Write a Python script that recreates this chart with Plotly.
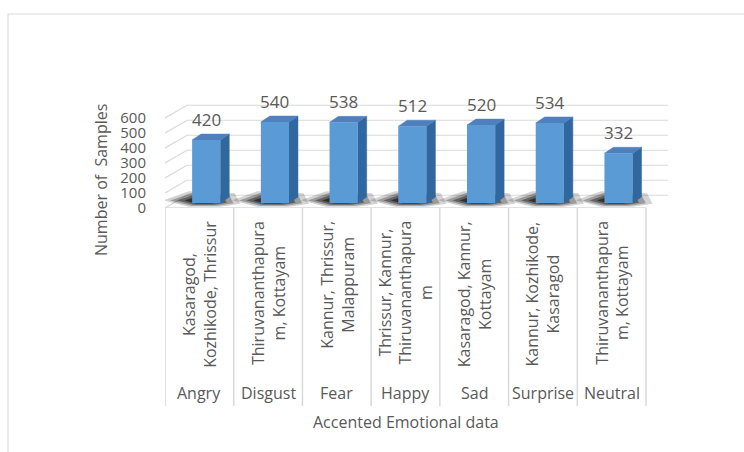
import plotly.graph_objects as go

# ---- data -------------------------------------------------------------
emotions = ["Angry", "Disgust", "Fear", "Happy", "Sad", "Surprise", "Neutral"]
districts = [
    "Kasaragod,<br>Kozhikode, Thrissur",
    "Thiruvananthapura<br>m, Kottayam",
    "Kannur, Thrissur,<br>Malappuram",
    "Thrissur, Kannur,<br>Thiruvananthapura<br>m",
    "Kasaragod, Kannur,<br>Kottayam",
    "Kannur, Kozhikode,<br>Kasaragod",
    "Thiruvananthapura<br>m, Kottayam",
]
samples = [420, 540, 538, 512, 520, 534, 332]
y_ticks = [0, 100, 200, 300, 400, 500, 600]

# ---- page geometry -----------------------------------------------------
W, H = 744, 452
ML, MR, MT, MB = 165, 76, 103, 244
PW, PH = W - ML - MR, H - MT - MB

TEXT = "#595959"
GRID = "#d9d9d9"
FONT = "Open Sans"

# pseudo-3D depth of the walls and of the columns (data units)
WALL_DX, WALL_DY = 0.32, 85
BAR_OFF_X, BAR_OFF_Y = 0.10, 33      # front face pushed back into the floor
BAR_W = 0.41
BAR_DX, BAR_DY = 0.13, 40            # column depth
Y_MAX = 700
X_MIN, X_MAX = -0.5, len(emotions) - 0.5 + WALL_DX


def paper_x(px):
    return (px - ML) / PW


def paper_y(py):
    return (H - MB - py) / PH


def poly(points):
    return "M " + " L ".join(f"{x},{y}" for x, y in points) + " Z"


shapes = []

# outer frame of the chart object
shapes.append(dict(type="rect", xref="paper", yref="paper",
                   x0=paper_x(8), y0=paper_y(H + 5), x1=paper_x(W + 5), y1=paper_y(14),
                   line=dict(color=GRID, width=1.2), fillcolor="rgba(0,0,0,0)",
                   layer="below"))

# left wall + back wall gridlines
x_front_left = X_MIN
x_back_left = X_MIN + WALL_DX
x_back_right = len(emotions) - 0.5 + WALL_DX
for v in y_ticks:
    shapes.append(dict(type="path", xref="x", yref="y",
                       path=f"M {x_front_left},{v} L {x_back_left},{v + WALL_DY} L {x_back_right},{v + WALL_DY}",
                       line=dict(color=GRID, width=1.2), layer="below"))

# floor front edge
shapes.append(dict(type="line", xref="x", yref="y",
                   x0=X_MIN, y0=0, x1=len(emotions) - 0.5, y1=0,
                   line=dict(color=GRID, width=1.5), layer="below"))

# category table: vertical separators under the floor
for k in range(len(emotions) + 1):
    xk = k - 0.5
    shapes.append(dict(type="line", xref="x", yref="paper",
                       x0=xk, x1=xk, y0=paper_y(208), y1=paper_y(406),
                       line=dict(color=GRID, width=1.5), layer="below"))

# soft shadows on the floor around each column foot
for i, v in enumerate(samples):
    x0 = i + BAR_OFF_X - BAR_W / 2
    x1 = x0 + BAR_W
    b = BAR_OFF_Y
    for s, op in [(1.0, 0.18), (0.82, 0.28), (0.64, 0.4), (0.46, 0.55)]:
        cx = (x0 + x1) / 2 - 0.05
        cy = b + 15
        base_pts = [
            (x0 - 0.42, b + 18),
            (x0 - 0.05, b + 78),
            (x1 + BAR_DX + 0.08, b + BAR_DY + 25),
            (x1 + BAR_DX + 0.16, b - 5),
            (x1, b - 25),
            (x0 - 0.05, b - 25),
        ]
        pts = [(cx + (px - cx) * s, cy + (py - cy) * s) for px, py in base_pts]
        shapes.append(dict(type="path", xref="x", yref="y", path=poly(pts),
                           fillcolor=f"rgba(10,10,10,{op})", line=dict(width=0),
                           layer="below"))

# side and top faces of each column
for i, v in enumerate(samples):
    x0 = i + BAR_OFF_X - BAR_W / 2
    x1 = x0 + BAR_W
    b = BAR_OFF_Y
    top = b + v
    side = [(x1, b), (x1, top), (x1 + BAR_DX, top + BAR_DY), (x1 + BAR_DX, b + BAR_DY)]
    cap = [(x0, top), (x1, top), (x1 + BAR_DX, top + BAR_DY), (x0 + BAR_DX, top + BAR_DY)]
    shapes.append(dict(type="path", xref="x", yref="y", path=poly(side),
                       fillcolor="#31679f", line=dict(color="#31679f", width=0.5),
                       layer="below"))
    shapes.append(dict(type="path", xref="x", yref="y", path=poly(cap),
                       fillcolor="#4f80bd", line=dict(color="#4f80bd", width=0.5),
                       layer="below"))

fig = go.Figure()
fig.add_trace(go.Bar(
    x=[i + BAR_OFF_X for i in range(len(emotions))],
    y=samples,
    base=[BAR_OFF_Y] * len(samples),
    width=BAR_W,
    marker=dict(color="#5b9bd5", line=dict(width=0)),
    hoverinfo="skip",
))

annotations = []
# value labels above each column
for i, v in enumerate(samples):
    annotations.append(dict(xref="x", yref="y", x=i + BAR_OFF_X, y=BAR_OFF_Y + v + BAR_DY,
                            text=str(v), showarrow=False, yanchor="bottom", yshift=1,
                            font=dict(family=FONT, size=17, color=TEXT)))

# two-level category labels
for i, (d, e) in enumerate(zip(districts, emotions)):
    annotations.append(dict(xref="x", yref="paper", x=i, y=paper_y(219),
                            text=d, textangle=-90, showarrow=False,
                            xanchor="center", yanchor="top", align="center",
                            font=dict(family=FONT, size=16, color=TEXT)))
    annotations.append(dict(xref="x", yref="paper", x=i, y=paper_y(393),
                            text=e, showarrow=False, xanchor="center", yanchor="middle",
                            font=dict(family=FONT, size=16, color=TEXT)))

# axis titles
annotations.append(dict(xref="paper", yref="paper", x=paper_x(405.5), y=paper_y(422),
                        text="Accented Emotional data", showarrow=False,
                        xanchor="center", yanchor="middle",
                        font=dict(family=FONT, size=16, color=TEXT)))
annotations.append(dict(xref="paper", yref="paper", x=paper_x(101), y=paper_y(180),
                        text="Number of\u00a0 Samples", textangle=-90, showarrow=False,
                        xanchor="center", yanchor="middle",
                        font=dict(family=FONT, size=16, color=TEXT)))

fig.update_layout(
    width=W, height=H,
    margin=dict(l=ML, r=MR, t=MT, b=MB, pad=0),
    paper_bgcolor="white", plot_bgcolor="rgba(0,0,0,0)",
    showlegend=False,
    shapes=shapes,
    annotations=annotations,
    xaxis=dict(range=[X_MIN, X_MAX], showgrid=False, zeroline=False,
               showticklabels=False, showline=False, fixedrange=True),
    yaxis=dict(range=[0, Y_MAX], tickvals=y_ticks, showgrid=False, zeroline=False,
               showline=False, ticks="", ticklabelstandoff=18,
               tickfont=dict(family=FONT, size=15, color=TEXT), fixedrange=True),
)

fig.write_html("out.html")
